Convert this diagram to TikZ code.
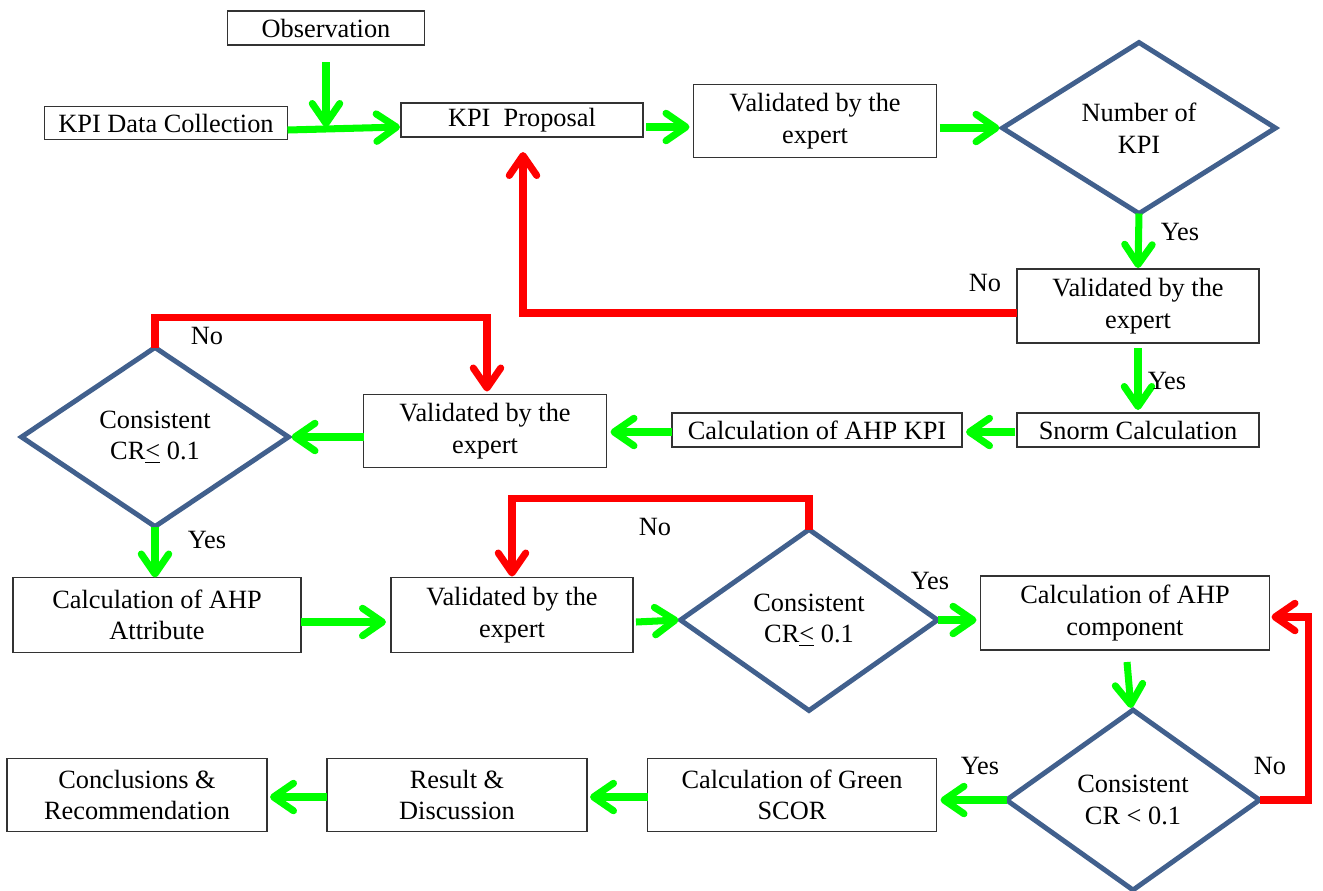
\documentclass[tikz,border=0pt]{standalone}
\usepackage{fontspec}
\setmainfont{Liberation Serif}
\usetikzlibrary{arrows.meta,shapes.geometric,calc}
\definecolor{gr}{HTML}{00FF00}
\definecolor{rd}{HTML}{FF0000}
\definecolor{dblue}{HTML}{41608D}
\definecolor{boxc}{HTML}{333333}
\begin{document}
\begin{tikzpicture}[x=0.02cm,y=-0.02cm,
  every node/.style={font=\fontsize{15}{18}\selectfont},
  box/.style={draw=boxc,line width=0.8pt,fill=white,align=center,inner sep=0pt,outer sep=0pt},
  bx/.style 2 args={minimum width=#1*0.02cm,minimum height=#2*0.02cm},
  dia/.style={diamond,draw=dblue,line width=2.8pt,fill=white,align=center,inner sep=0pt,outer sep=0pt},
  dx/.style 2 args={minimum width=#1*0.02cm,minimum height=#2*0.02cm},
  garrow/.style={draw=gr,line width=4pt,-{Straight Barb[length=0.4cm,width=0.55cm,line cap=round,line join=round]}},
  rarrow/.style={draw=rd,line width=4pt,-{Straight Barb[length=0.4cm,width=0.55cm,line cap=round,line join=round]}},
  lbl/.style={inner sep=0pt}]
\useasboundingbox (0,0) rectangle (1323,890);
% nodes
\node[box,bx={197}{34}] (obs) at (326,28) {Observation};
\node[box,bx={243}{33}] (kdc) at (166,123) {KPI Data Collection};
\node[box,bx={242}{34}] (prop) at (522,120) {KPI\ \ Proposal};
\node[box,bx={243}{73}] (v1) at (815,121) {Validated by the\\expert};
\node[dia,dx={273}{171}] (d1) at (1139,128) {Number of\\KPI};
\node[box,bx={242}{74}] (v2) at (1138,306) {Validated by the\\expert};
\node[box,bx={242}{34}] (sn) at (1138,430) {Snorm Calculation};
\node[box,bx={290}{34}] (ahpk) at (817,430) {Calculation of AHP KPI};
\node[box,bx={243}{73}] (v3) at (485,431) {Validated by the\\expert};
\node[dia,dx={267}{179}] (d2) at (155,437) {Consistent\\CR\underline{<} 0.1};
\node[box,bx={288}{75}] (attr) at (157,615) {Calculation of AHP\\Attribute};
\node[box,bx={242}{75}] (v4) at (512,615) {Validated by the\\expert};
\node[dia,dx={257}{181}] (d3) at (809,620) {Consistent\\CR\underline{<} 0.1};
\node[box,bx={289}{74}] (comp) at (1125,613) {Calculation of AHP\\component};
\node[dia,dx={253}{180}] (d4) at (1133,800) {Consistent\\CR < 0.1};
\node[box,bx={289}{73}] (gs) at (792,795) {Calculation of Green\\SCOR};
\node[box,bx={260}{73}] (rdis) at (457,795) {Result \&\\Discussion};
\node[box,bx={260}{73}] (conc) at (137,795) {Conclusions \&\\Recommendation};
% green connectors
\coordinate (j) at (326,127);
\draw[garrow] ($(obs.south)+(0,17)$) -- (j);
\draw[garrow] ($(kdc.east)+(0,7)$) -- ($(prop.west)+(-1,7)$);
\draw[garrow] ($(prop.east)+(3,7)$) -- ($(v1.west)+(-4,6)$);
\draw[garrow] ($(v1.east)+(3,7)$) -- ($(d1.west)+(-3,0)$);
\draw[garrow] (d1.south) -- ($(v2.north)+(0,-1)$);
\draw[garrow] ($(v2.south)+(0,5)$) -- ($(sn.north)+(0,-3)$);
\draw[garrow] ($(sn.west)+(-2,2)$) -- ($(ahpk.east)+(4,2)$);
\draw[garrow] ($(ahpk.west)+(0,2)$) -- ($(v3.east)+(4,1)$);
\draw[garrow] ($(v3.west)+(0,6)$) -- ($(d2.east)+(3,0)$);
\draw[garrow] (d2.south) -- (d2.south |- attr.north);
\draw[garrow] ($(attr.east)+(0,7)$) -- ($(v4.west)+(-5,7)$);
\draw[garrow] ($(v4.east)+(3,7)$) -- ($(d3.west)+(-2,0)$);
\draw[garrow] (d3.east) -- ($(comp.west)+(-4,7)$);
\draw[garrow] ($(comp.south)+(2,12)$) -- ($(d4.north)+(-2,-2)$);
\draw[garrow] (d4.west) -- ($(gs.east)+(4,5)$);
\draw[garrow] ($(gs.west)+(0,2)$) -- ($(rdis.east)+(3,2)$);
\draw[garrow] ($(rdis.west)+(0,2)$) -- ($(conc.east)+(3,2)$);
% red connectors
\draw[rarrow] ($(v2.west)+(0,7)$) -| ($(prop.south)+(1,15)$);
\draw[rarrow] (d2.north) -- ++(0,-30) -| ($(v3.north)+(2,-3)$);
\draw[rarrow] (d3.north) -- ++(0,-31) -| ($(v4.north)+(0,-1)$);
\draw[rarrow] (d4.east) -- ++(49,0) |- ($(comp.east)+(2,4)$);
% labels
\node[lbl] (l1) at (1180,232) {Yes};
\node[lbl] (l2) at (1167,381) {Yes};
\node[lbl] (l3) at (985,283) {No};
\node[lbl] (l4) at (207,336) {No};
\node[lbl] (l5) at (207,540) {Yes};
\node[lbl] (l6) at (655,527) {No};
\node[lbl] (l7) at (930,581) {Yes};
\node[lbl] (l8) at (980,766) {Yes};
\node[lbl] (l9) at (1270,766) {No};
\end{tikzpicture}
\end{document}
